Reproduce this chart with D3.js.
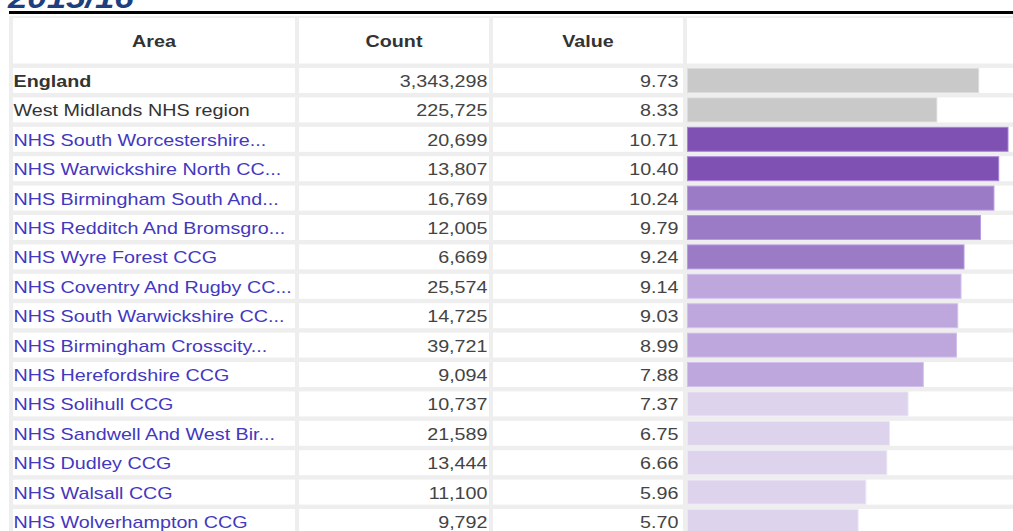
<html>
<head>
  <meta charset="utf-8">
  <title></title>
  <script src="https://cdn.jsdelivr.net/npm/d3@7"></script>
<style type="text/css">
  body { margin: 0; background: #fff; }
  svg { display: block; }
  text { font-family: Arial, "Liberation Sans", sans-serif; }
</style>
</head>
<body>
<script type="text/javascript">
var title = '2015/16';
var headers = ['Area', 'Count', 'Value'];
var areas = ['England', 'West Midlands NHS region', 'NHS South Worcestershire...',
  'NHS Warwickshire North CC...', 'NHS Birmingham South And...', 'NHS Redditch And Bromsgro...',
  'NHS Wyre Forest CCG', 'NHS Coventry And Rugby CC...', 'NHS South Warwickshire CC...',
  'NHS Birmingham Crosscity...', 'NHS Herefordshire CCG', 'NHS Solihull CCG',
  'NHS Sandwell And West Bir...', 'NHS Dudley CCG', 'NHS Walsall CCG', 'NHS Wolverhampton CCG'];
var counts = [3343298, 225725, 20699, 13807, 16769, 12005, 6669, 25574, 14725, 39721,
  9094, 10737, 21589, 13444, 11100, 9792];
var values = [9.73, 8.33, 10.71, 10.40, 10.24, 9.79, 9.24, 9.14, 9.03, 8.99,
  7.88, 7.37, 6.75, 6.66, 5.96, 5.70];
// comparator rows are grey, the rest are banded by quintile
var bands = ['comp', 'comp', 'q1', 'q1', 'q2', 'q2', 'q2', 'q3', 'q3', 'q3',
  'q3', 'q4', 'q4', 'q4', 'q4', 'q4'];

var w = 1013, h = 531;
var sx = 1.16;            // the picture is a bit stretched sideways
var fs = 17;
var rowTop = 68, rowStep = 29.4, cellH = 25;
var cols = [{x0: 13, x1: 295}, {x0: 299, x1: 489}, {x0: 493, x1: 683}, {x0: 687, x1: 1100}];

var fill = d3.scaleOrdinal()
  .domain(['comp', 'q1', 'q2', 'q3', 'q4'])
  .range(['#c9c9c9', '#7e51b3', '#9c7bc6', '#bea7dc', '#ddd3ec']);
var edge = d3.scaleOrdinal()
  .domain(['comp', 'q1', 'q2', 'q3', 'q4'])
  .range(['#dcdcdc', '#a683dc', '#b89ae0', '#d2c0ec', '#ece6f6']);

var x = d3.scaleLinear()
  .domain([0, d3.max(values)])
  .range([0, 320.5]);

var rows = areas.map(function(a, i) {
  return {area: a, count: counts[i], value: values[i], band: bands[i], i: i};
});

var svg = d3.select('body').append('svg')
  .attr('width', w)
  .attr('height', h);

// title, mostly scrolled off the top
svg.append('text')
  .attr('transform', 'translate(8,7.5) scale(' + sx + ',1)')
  .attr('font-size', 30)
  .attr('font-weight', 'bold')
  .attr('font-style', 'italic')
  .attr('fill', '#1e3f7f')
  .text(title);

svg.append('rect')
  .attr('x', 9).attr('y', 11)
  .attr('width', w).attr('height', 3)
  .attr('fill', '#000');

// grey table background shows through as cell borders
svg.append('rect')
  .attr('x', 9).attr('y', 16)
  .attr('width', w).attr('height', h)
  .attr('fill', '#eeeeee');

// header cells
svg.selectAll('rect.head')
  .data(cols).enter()
  .append('rect')
  .attr('class', 'head')
  .attr('x', function(c) { return c.x0; })
  .attr('y', 18)
  .attr('width', function(c) { return c.x1 - c.x0; })
  .attr('height', 45.5)
  .attr('fill', '#fff');

svg.selectAll('text.head')
  .data(headers).enter()
  .append('text')
  .attr('class', 'head')
  .attr('transform', function(d, i) {
    return 'translate(' + ((cols[i].x0 + cols[i].x1) / 2) + ',41) scale(' + sx + ',1)';
  })
  .attr('text-anchor', 'middle')
  .attr('dy', '0.35em')
  .attr('font-size', fs)
  .attr('font-weight', 'bold')
  .attr('fill', '#333')
  .text(function(d) { return d; });

var row = svg.selectAll('g.row')
  .data(rows).enter()
  .append('g')
  .attr('class', 'row')
  .attr('transform', function(d) { return 'translate(0,' + (rowTop + d.i * rowStep) + ')'; });

row.selectAll('rect.cell')
  .data(cols).enter()
  .append('rect')
  .attr('class', 'cell')
  .attr('x', function(c) { return c.x0; })
  .attr('y', 0)
  .attr('width', function(c) { return c.x1 - c.x0; })
  .attr('height', cellH)
  .attr('fill', '#fff');

row.append('text')
  .attr('transform', 'translate(13.5,' + (cellH / 2 + 0.5) + ') scale(' + sx + ',1)')
  .attr('dy', '0.35em')
  .attr('font-size', fs)
  .attr('font-weight', function(d) { return d.i == 0 ? 'bold' : 'normal'; })
  .attr('fill', function(d) { return d.band == 'comp' ? '#333' : '#4338c0'; })
  .text(function(d) { return d.area; });

row.append('text')
  .attr('transform', 'translate(487.5,' + (cellH / 2 + 0.5) + ') scale(' + sx + ',1)')
  .attr('dy', '0.35em')
  .attr('text-anchor', 'end')
  .attr('font-size', fs)
  .attr('fill', '#444')
  .text(function(d) { return d3.format(',')(d.count); });

row.append('text')
  .attr('transform', 'translate(678.5,' + (cellH / 2 + 0.5) + ') scale(' + sx + ',1)')
  .attr('dy', '0.35em')
  .attr('text-anchor', 'end')
  .attr('font-size', fs)
  .attr('fill', '#444')
  .text(function(d) { return d3.format('.2f')(d.value); });

row.append('rect')
  .attr('x', 687.5)
  .attr('y', 0.5)
  .attr('width', function(d) { return x(d.value); })
  .attr('height', cellH - 1)
  .attr('fill', function(d) { return fill(d.band); })
  .attr('stroke', function(d) { return edge(d.band); })
  .attr('stroke-width', 1);

</script>
</body>
</html>
